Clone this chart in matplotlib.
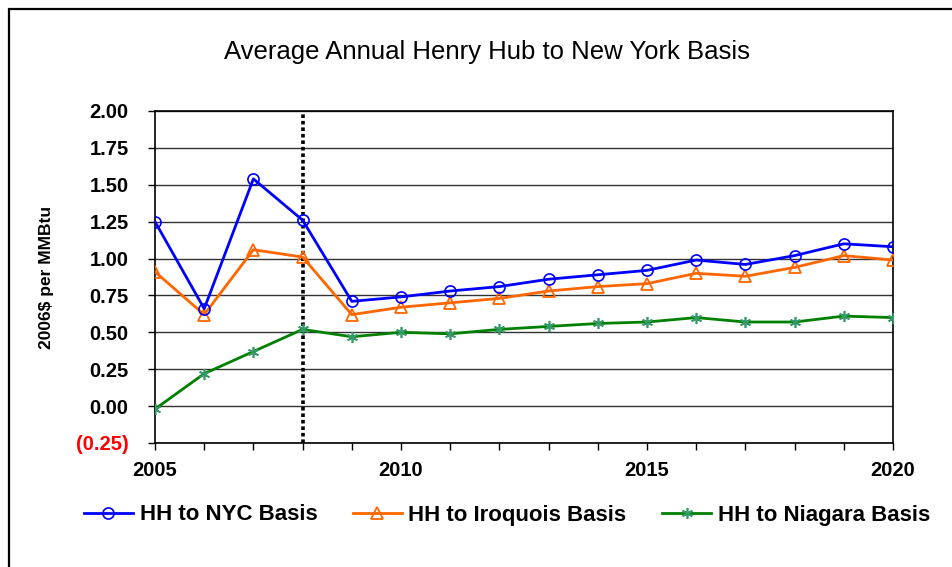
import numpy as np
import matplotlib
matplotlib.use("Agg")
import matplotlib.pyplot as plt
from matplotlib.patches import Rectangle

years = np.arange(2005, 2021)
nyc = [1.25, 0.66, 1.54, 1.26, 0.71, 0.74, 0.78, 0.81, 0.86, 0.89, 0.92, 0.99, 0.96, 1.02, 1.10, 1.08]
iroquois = [0.91, 0.62, 1.06, 1.01, 0.62, 0.67, 0.70, 0.73, 0.78, 0.81, 0.83, 0.90, 0.88, 0.94, 1.02, 0.99]
niagara = [-0.02, 0.22, 0.37, 0.52, 0.47, 0.50, 0.49, 0.52, 0.54, 0.56, 0.57, 0.60, 0.57, 0.57, 0.61, 0.60]
y_ticks = [-0.25, 0.0, 0.25, 0.5, 0.75, 1.0, 1.25, 1.5, 1.75, 2.0]
x_labels = [2005, 2010, 2015, 2020]
split_year = 2008

plt.rcParams['font.family'] = ['Liberation Sans', 'DejaVu Sans']

fig = plt.figure(figsize=(9.52, 5.67), dpi=100)
ax = fig.add_axes([155/952, 1 - 443/567, (893 - 155)/952, (443 - 111)/567])

for y in y_ticks:
    ax.axhline(y, color='#333333', lw=1.0, zorder=1)

ax.axvline(split_year, color='black', lw=2.6, linestyle=(0, (1, 0.8)), zorder=2)

ax.plot(years, nyc, color='#0000ff', lw=2.0, marker='o', markersize=8,
        fillstyle='none', markeredgewidth=1.2, label='HH to NYC Basis', zorder=4)
ax.plot(years, iroquois, color='#ff6600', lw=2.0, marker='^', markersize=9,
        fillstyle='none', markeredgewidth=1.3, label='HH to Iroquois Basis', zorder=3)
ax.plot(years, niagara, color='#008000', lw=2.0, marker=(6, 2, 0), markersize=8,
        markeredgecolor='#339966', markeredgewidth=1.2, label='HH to Niagara Basis', zorder=3)

ax.set_xlim(2005, 2020)
ax.set_ylim(-0.25, 2.0)
ax.set_xticks(years)
ax.set_xticklabels([str(y) if y in x_labels else '' for y in years],
                   fontsize=14.5, fontweight='bold')
ax.set_yticks(y_ticks)
ax.set_yticklabels(['({:.2f})'.format(-y) if y < 0 else '{:.2f}'.format(y) for y in y_ticks],
                   fontsize=14.5, fontweight='bold')
ax.get_yticklabels()[0].set_color('red')
ax.tick_params(axis='y', direction='out', length=5, width=1, pad=14)
ax.tick_params(axis='x', direction='out', length=5, width=1, pad=8)
for s in ax.spines.values():
    s.set_linewidth(1.2)

fig.text(487/952, 1 - 52/567, 'Average Annual Henry Hub to New York Basis',
         ha='center', va='center', fontsize=18.5)
fig.text(47/952, 1 - 277/567, '2006$ per MMBtu', rotation=90,
         ha='center', va='center', fontsize=12.5, fontweight='bold')

fig.legend(loc='center', bbox_to_anchor=(507/952, 1 - 515/567), ncol=3, frameon=False,
           prop={'size': 16, 'weight': 'bold'}, handlelength=2.2, handletextpad=0.3,
           columnspacing=1.6)

fig.patches.append(Rectangle((9/952, -0.1), 1.2, 1 - 9/567 + 0.1, transform=fig.transFigure,
                             fill=False, lw=1.6, edgecolor='black'))

fig.savefig('out.png', dpi=100)
